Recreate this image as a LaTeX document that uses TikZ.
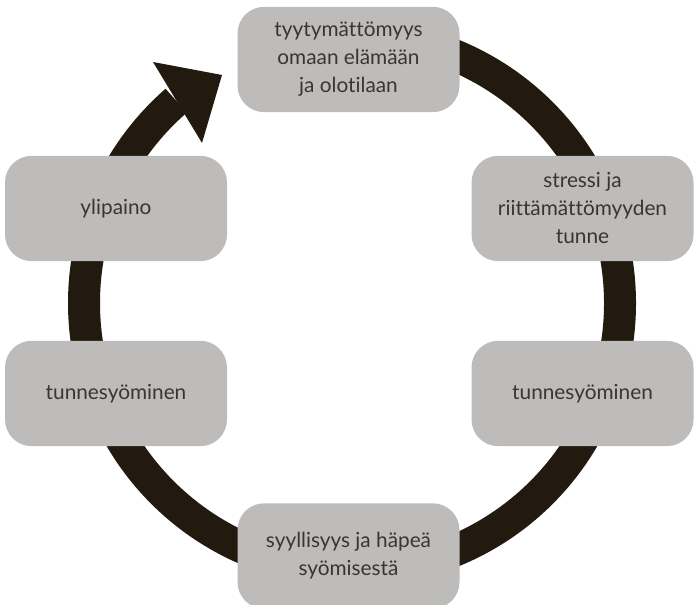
\documentclass[tikz,border=0pt]{standalone}
\usepackage{fontspec}
\setmainfont[Ligatures={NoCommon}]{Lato}
\definecolor{ringc}{HTML}{221A0E}
\definecolor{boxc}{HTML}{BDBCBA}
\definecolor{txtc}{HTML}{3A3530}
\begin{document}
\begin{tikzpicture}[x=0.75pt,y=0.75pt,
  cbox/.style={fill=boxc,draw=none,rounded corners=20pt,minimum width=166.5pt,minimum height=79pt,
    text=txtc,align=center,font=\fontsize{15.6}{21}\selectfont,inner sep=0pt}]
\useasboundingbox (0,0) rectangle (694,605);
\coordinate (c) at (352,302);
% ring
\draw[ringc,line width=24pt] (c) ++(95:268) arc[start angle=95,end angle=-229,radius=268] coordinate (base);
\coordinate (tip) at (222,530);
\coordinate (h1) at (153,543);
\coordinate (h2) at (202,462);
\fill[ringc] (h1) -- (tip) -- (h2) -- cycle;
% boxes
\node[cbox] (top) at (348.5,545.5) {tyytymättömyys\\omaan elämään\\ja olotilaan};
\node[cbox] (stress) at (582.5,396.5) {stressi ja\\riittämättömyyden\\tunne};
\node[cbox] (yli) at (116,396.5) {ylipaino};
\node[cbox] (ltun) at (116,211.5) {tunnesyöminen};
\node[cbox] (rtun) at (582.5,211.5) {tunnesyöminen};
\node[cbox] (bot) at (348.5,49) {syyllisyys ja häpeä\\syömisestä};
\end{tikzpicture}
\end{document}
